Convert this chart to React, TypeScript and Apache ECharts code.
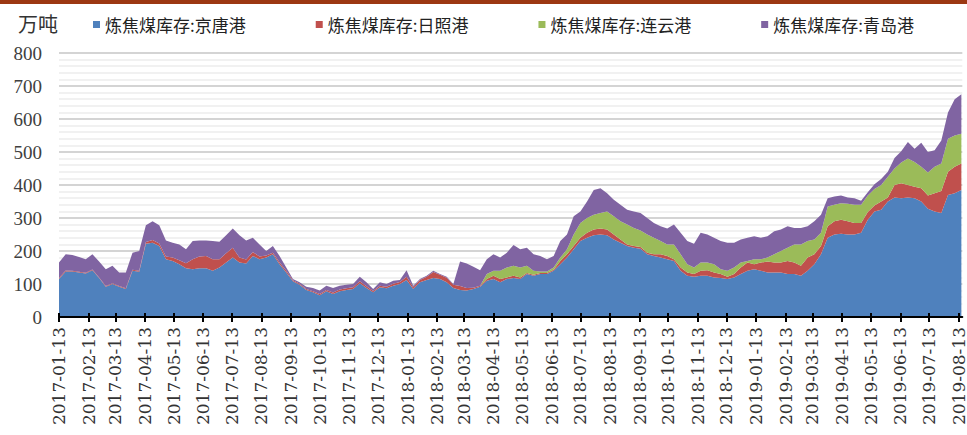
import React, { useEffect, useRef } from "react";
import * as echarts from "echarts";

// Weekly port inventories of coking coal (万吨), one reading every Friday from 2017-01-13
const jingtang = [
  115, 138, 138, 135, 132, 142, 118, 92, 100, 92, 85, 140, 137, 222, 225, 215, 175, 170, 160, 148,
  145, 148, 148, 140, 150, 165, 180, 165, 162, 185, 175, 180, 190, 160, 135, 108, 98, 82, 75, 66,
  78, 70, 78, 82, 85, 102, 88, 75, 90, 87, 95, 100, 112, 85, 105, 112, 118, 115, 105, 88,
  82, 80, 85, 92, 110, 115, 105, 115, 118, 115, 130, 125, 130, 130, 140, 160, 180, 205, 230, 240,
  248, 250, 248, 235, 225, 215, 210, 207, 190, 185, 180, 175, 170, 140, 125, 122, 125, 125, 120, 118,
  115, 120, 130, 140, 145, 140, 135, 135, 135, 130, 130, 125, 140, 160, 190, 240, 250, 252, 250, 250,
  255, 295, 320, 325, 350, 362, 360, 362, 360, 350, 328, 320, 315, 370, 375, 385,
];
const rizhao = [
  3, 3, 2, 2, 2, 2, 2, 2, 2, 2, 2, 3, 3, 5, 8, 8, 8, 10, 12, 15,
  30, 35, 37, 35, 25, 28, 30, 15, 12, 12, 8, 6, 5, 5, 5, 3, 3, 3, 3, 4,
  4, 4, 5, 5, 5, 6, 5, 4, 5, 5, 6, 6, 10, 5, 7, 10, 18, 13, 14, 10,
  12, 8, 4, 3, 5, 10, 10, 5, 7, 5, 3, 3, 3, 3, 3, 10, 10, 10, 10, 15,
  17, 18, 17, 15, 10, 5, 5, 5, 5, 5, 10, 10, 5, 10, 10, 8, 15, 17, 15, 12,
  7, 10, 20, 25, 15, 25, 33, 30, 30, 40, 35, 30, 40, 30, 25, 35, 40, 43, 40, 35,
  30, 23, 18, 25, 12, 38, 45, 38, 35, 40, 40, 55, 67, 70, 80, 80,
];
const lianyungang = [
  0, 0, 0, 0, 0, 0, 0, 0, 0, 0, 0, 0, 0, 0, 0, 0, 0, 0, 0, 0,
  0, 0, 0, 0, 0, 0, 0, 0, 0, 0, 0, 0, 0, 0, 0, 0, 0, 0, 0, 0,
  0, 0, 0, 0, 0, 0, 0, 0, 0, 0, 0, 0, 0, 0, 0, 0, 0, 0, 0, 0,
  0, 0, 0, 0, 15, 15, 25, 30, 30, 30, 22, 12, 5, 5, 7, 10, 15, 35, 45, 45,
  45, 47, 55, 55, 55, 60, 55, 50, 55, 50, 40, 35, 45, 40, 25, 20, 25, 23, 25, 15,
  18, 20, 15, 5, 15, 10, 12, 25, 35, 40, 55, 65, 50, 45, 40, 60, 50, 50, 53, 55,
  55, 50, 50, 50, 63, 50, 63, 80, 75, 65, 70, 80, 83, 100, 95, 90,
];
const qingdao = [
  47, 49, 48, 45, 41, 46, 48, 51, 53, 41, 48, 52, 60, 51, 57, 55, 49, 45, 48, 42,
  55, 49, 47, 55, 53, 55, 58, 68, 58, 43, 37, 14, 20, 20, 10, 4, 4, 7, 10, 10,
  13, 14, 12, 11, 10, 14, 12, 6, 10, 8, 9, 6, 20, 5, 3, 3, 4, 2, 3, 2,
  74, 74, 63, 47, 45, 50, 40, 45, 63, 55, 55, 50, 47, 37, 35, 50, 45, 55, 35, 50,
  75, 75, 55, 50, 50, 45, 50, 53, 50, 45, 45, 48, 60, 65, 70, 72, 90, 85, 80, 85,
  85, 75, 70, 70, 70, 65, 65, 70, 65, 65, 50, 50, 45, 55, 55, 25, 25, 23, 19, 20,
  12, 10, 14, 18, 15, 32, 34, 50, 40, 73, 62, 50, 70, 80, 110, 120,
];

const seriesNames = [
  "炼焦煤库存:京唐港",
  "炼焦煤库存:日照港",
  "炼焦煤库存:连云港",
  "炼焦煤库存:青岛港",
];
const seriesColors = ["#4F81BD", "#C0504D", "#9BBB59", "#8064A2"];
const seriesValues = [jingtang, rizhao, lianyungang, qingdao];

const DAY = 86400000;
const firstFriday = Date.UTC(2017, 0, 13);
const lastDay = firstFriday + 946 * DAY;
const weekDates = jingtang.map((_, i) => firstFriday + i * 7 * DAY);

// Monthly tick marks on the 13th, 2017-01 .. 2019-08
const tickYears = [2017, 2018, 2019];
const monthTicks: number[] = [];
tickYears.forEach((y) => {
  const last = y === 2019 ? 7 : 11;
  for (let m = 0; m <= last; m++) monthTicks.push(Date.UTC(y, m, 13));
});

const pad = (n: number) => (n < 10 ? "0" + n : "" + n);
const fmtDate = (v: number) => {
  const d = new Date(v);
  return d.getUTCFullYear() + "-" + pad(d.getUTCMonth() + 1) + "-" + pad(d.getUTCDate());
};

export default function App() {
  const ref = useRef<HTMLDivElement>(null);

  useEffect(() => {
    document.body.style.margin = "0";
    if (!ref.current) return;
    const chart = echarts.init(ref.current, undefined, { renderer: "svg" });

    // Value axes over the same date range, used only to place the monthly ticks and labels
    const tickAxis = (inside: boolean) => ({
      type: "value" as const,
      position: "bottom" as const,
      min: firstFriday,
      max: lastDay,
      z: 10,
      splitLine: { show: false },
      axisLine: { show: false },
      axisTick: {
        show: true,
        inside,
        customValues: monthTicks,
        length: inside ? 4 : 5,
        lineStyle: { color: "#000000", width: 2 },
      },
      axisLabel: inside
        ? { show: false }
        : {
            show: true,
            customValues: monthTicks,
            rotate: 90,
            margin: 10,
            formatter: (v: number) => fmtDate(v),
            fontFamily: "DejaVu Serif",
            fontSize: 17,
            color: "#333333",
          },
    });

    chart.setOption({
      animation: false,
      backgroundColor: "#ffffff",
      grid: { left: 59, right: 0, top: 53, bottom: 118, containLabel: false },
      graphic: [
        {
          type: "rect",
          shape: { x: 0, y: 0, width: 967, height: 4 },
          style: { fill: "#9C3812" },
          silent: true,
        },
        {
          type: "text",
          left: 18,
          top: 13,
          style: {
            text: "万吨",
            font: '20px "Noto Sans CJK SC"',
            fill: "#333333",
          },
        },
      ],
      legend: {
        data: seriesNames,
        left: 93,
        top: 16,
        padding: 0,
        itemGap: 70,
        itemWidth: 7,
        itemHeight: 7,
        icon: "rect",
        selectedMode: false,
        textStyle: {
          fontFamily: "Noto Sans CJK SC",
          fontSize: 17,
          color: "#222222",
        },
      },
      xAxis: [
        {
          type: "time",
          position: "bottom",
          min: firstFriday,
          max: lastDay,
          z: 10,
          splitLine: { show: false },
          axisLine: { show: true, lineStyle: { color: "#000000", width: 2 } },
          axisTick: { show: false },
          axisLabel: { show: false },
        },
        tickAxis(false),
        tickAxis(true),
      ],
      yAxis: {
        type: "value",
        min: 0,
        max: 800,
        interval: 100,
        axisLine: { show: false },
        axisTick: { show: false },
        axisLabel: {
          margin: 17,
          fontFamily: "Liberation Serif",
          fontSize: 19,
          color: "#404040",
        },
        splitLine: { show: true, lineStyle: { color: "#d4d4d4", width: 2 } },
        minorTick: { show: false, splitNumber: 5 },
        minorSplitLine: { show: true, lineStyle: { color: "#ececec", width: 1.5 } },
      },
      series: seriesNames.map((name, s) => ({
        name,
        type: "line",
        stack: "total",
        xAxisIndex: 0,
        symbol: "none",
        showSymbol: false,
        itemStyle: { color: seriesColors[s] },
        lineStyle: { width: 0, color: seriesColors[s] },
        areaStyle: { color: seriesColors[s], opacity: 1 },
        data: seriesValues[s].map((v, i) => [weekDates[i], v]),
      })),
    });

    return () => chart.dispose();
  }, []);

  return <div ref={ref} style={{ width: 967, height: 435 }} />;
}
